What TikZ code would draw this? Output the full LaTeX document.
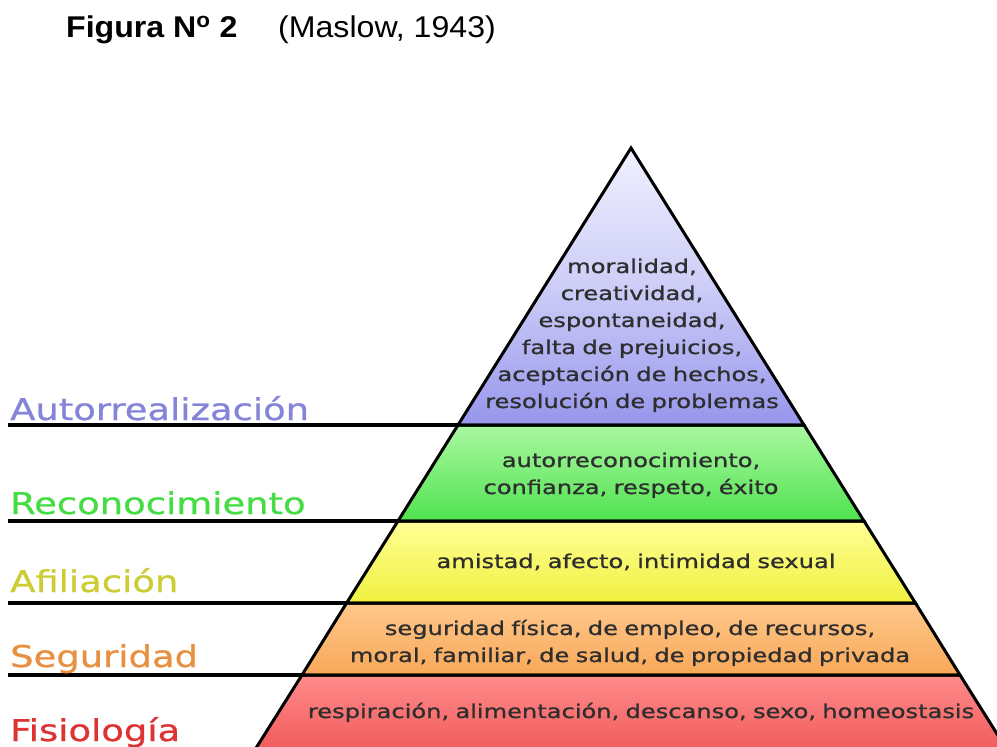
\documentclass[tikz,border=0pt]{standalone}
\usepackage{fontspec}
\setmainfont{Liberation Sans}
\newfontfamily\titlefont[FakeStretch=1.07]{Liberation Sans}
\newfontfamily\pyrfont[FakeStretch=1.27,FakeBold=1]{DejaVu Sans}
\newfontfamily\labfont[FakeStretch=1.23,FakeBold=0.8]{DejaVu Sans}
\definecolor{cA}{HTML}{8484D8}
\definecolor{cR}{HTML}{44DD44}
\definecolor{cF}{HTML}{CCCC33}
\definecolor{cS}{HTML}{E89040}
\definecolor{cP}{HTML}{DD3333}
\tikzset{
  band/.style={draw=black, line width=3pt, line join=miter},
  ptext/.style={font=\pyrfont\fontsize{19}{27}\selectfont, text=black!82, align=center, text width=700pt, inner sep=0pt, anchor=base},
  lab/.style={font=\labfont\fontsize{30}{34}\selectfont, anchor=base west, inner sep=0pt},
  rule/.style={draw=black, line width=3.2pt}
}
\begin{document}
\begin{tikzpicture}[x=1pt,y=-1pt]
\useasboundingbox (0,0) rectangle (997,747);
\clip (0,0) rectangle (997,747);
\fill[white] (0,0) rectangle (997,747);
% title
\node[anchor=base west, inner sep=0pt, font=\titlefont\fontsize{30}{34}\selectfont\bfseries] (tit) at (66,37) {Figura N\textsuperscript{o} 2};
\node[anchor=base west, inner sep=0pt, font=\titlefont\fontsize{30}{34}\selectfont] (ref) at (278,37) {(Maslow, 1943)};
% pyramid coordinates
\coordinate (apex) at (631,148);
\coordinate (l1) at (458,425); \coordinate (r1) at (804,425);
\coordinate (l2) at (398,521); \coordinate (r2) at (864,521);
\coordinate (l3) at (346.6,603); \coordinate (r3) at (915.4,603);
\coordinate (l4) at (302,675); \coordinate (r4) at (960,675);
\coordinate (l5) at (248.5,760); \coordinate (r5) at (1013.5,760);
% bands
\shade[top color={rgb,255:red,255;green,140;blue,140}, bottom color={rgb,255:red,240;green,84;blue,84}] (l4) -- (r4) -- (r5) -- (l5) -- cycle;
\shade[top color={rgb,255:red,255;green,200;blue,140}, bottom color={rgb,255:red,248;green,168;blue,88}] (l3) -- (r3) -- (r4) -- (l4) -- cycle;
\shade[top color={rgb,255:red,255;green,255;blue,150}, bottom color={rgb,255:red,240;green,240;blue,64}] (l2) -- (r2) -- (r3) -- (l3) -- cycle;
\shade[top color={rgb,255:red,170;green,248;blue,160}, bottom color={rgb,255:red,80;green,226;blue,80}] (l1) -- (r1) -- (r2) -- (l2) -- cycle;
\shade[top color={rgb,255:red,240;green,240;blue,255}, bottom color={rgb,255:red,150;green,150;blue,236}, middle color={rgb,255:red,205;green,205;blue,248}] (apex) -- (r1) -- (l1) -- cycle;
\draw[band] (apex) -- (r1) -- (l1) -- cycle;
\draw[band] (l1) -- (r1) -- (r2) -- (l2) -- cycle;
\draw[band] (l2) -- (r2) -- (r3) -- (l3) -- cycle;
\draw[band] (l3) -- (r3) -- (r4) -- (l4) -- cycle;
\draw[band] (l4) -- (r4) -- (r5) -- (l5) -- cycle;
% rules to labels
\coordinate (e1) at (8,425);
\coordinate (e2) at (8,521);
\coordinate (e3) at (8,603);
\coordinate (e4) at (8,675);
\draw[rule] (e1) -- (l1);
\draw[rule] (e2) -- (l2);
\draw[rule] (e3) -- (l3);
\draw[rule] (e4) -- (l4);
% labels
\node[lab, text=cA] (nA) at (10,420) {Autorrealización};
\node[lab, text=cR] (nR) at (10,514) {Reconocimiento};
\node[lab, text=cF] (nF) at (10,592) {Afiliación};
\node[lab, text=cS] (nS) at (10,667) {Seguridad};
\node[lab, text=cP] (nP) at (10,741) {Fisiología};
% texts
\node[ptext] (t1) at (632,273) {moralidad,\\creatividad,\\espontaneidad,\\falta de prejuicios,\\aceptación de hechos,\\resolución de problemas};
\node[ptext] (t2) at (631,467) {autorreconocimiento,\\confianza, respeto, éxito};
\node[ptext] (t3) at (636,568) {amistad, afecto, intimidad sexual};
\node[ptext] (t4) at (630,635) {seguridad física, de empleo, de recursos,\\moral, familiar, de salud, de propiedad privada};
\node[ptext] (t5) at (641,718) {respiración, alimentación, descanso, sexo, homeostasis};
\end{tikzpicture}
\end{document}
